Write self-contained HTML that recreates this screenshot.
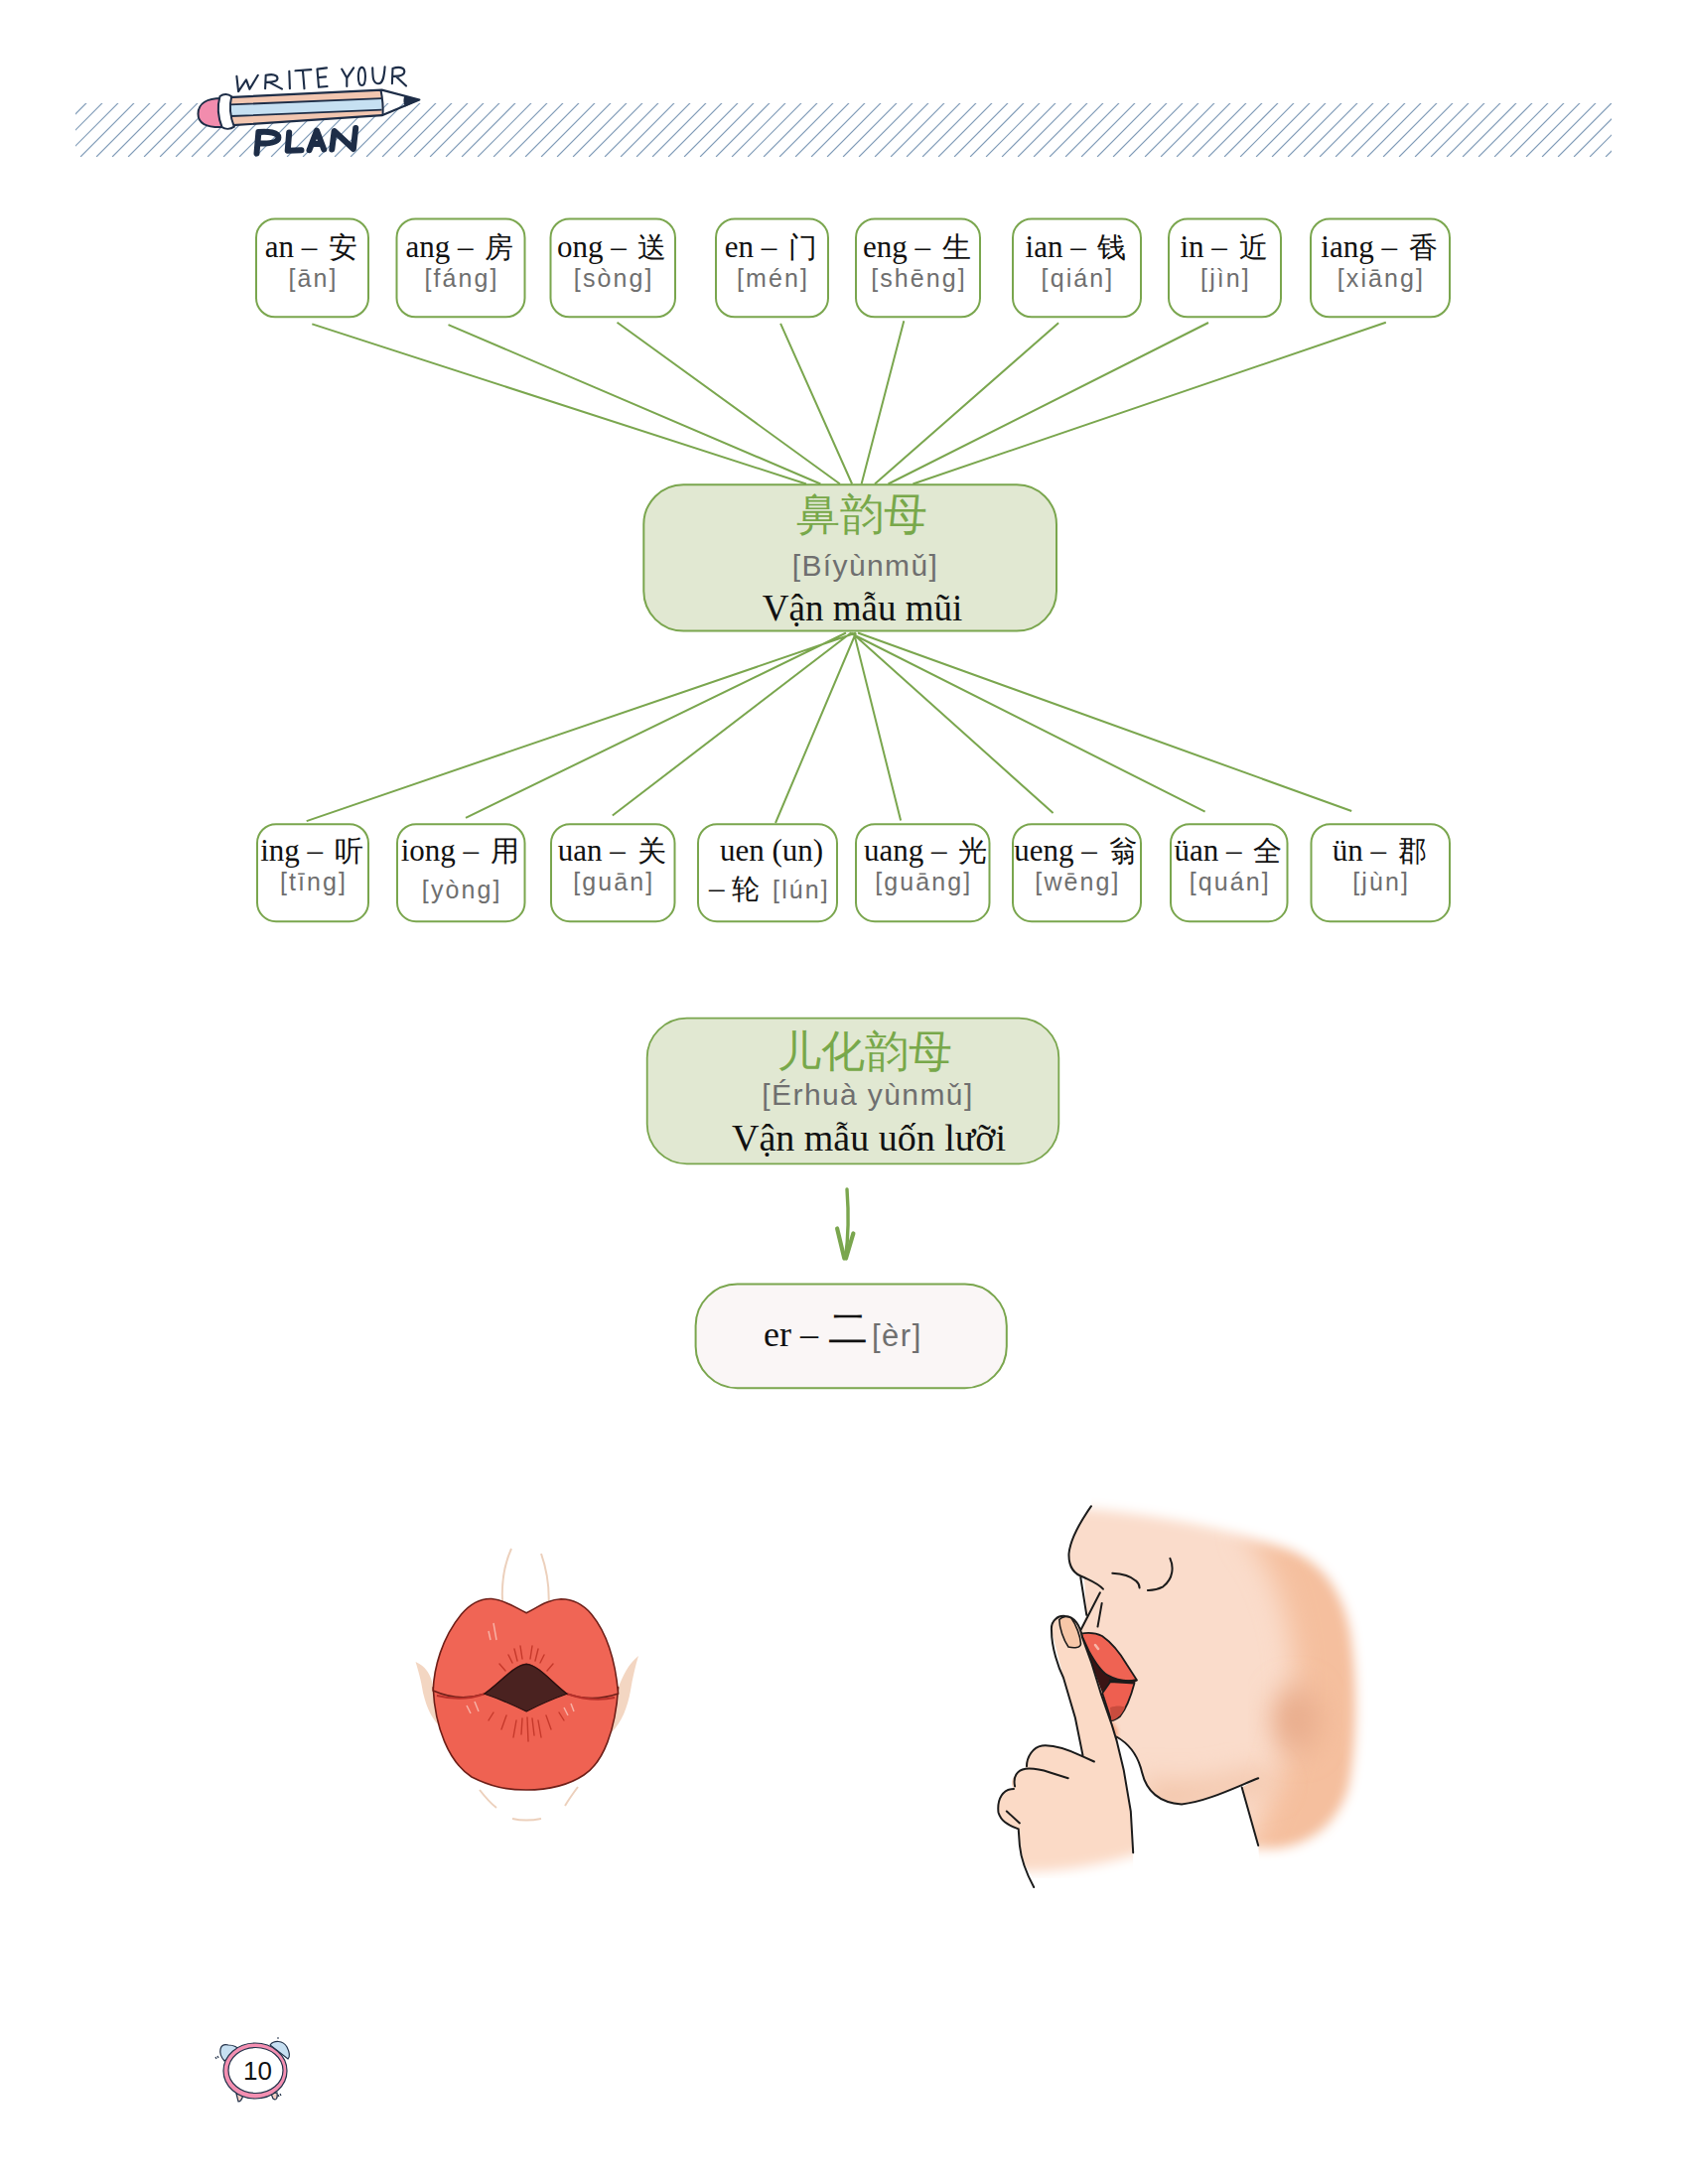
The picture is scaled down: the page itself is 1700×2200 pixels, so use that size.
<!DOCTYPE html><html><head><meta charset="utf-8"><style>html,body{margin:0;padding:0;background:#fff;}body{width:1700px;height:2200px;position:relative;overflow:hidden;}svg{position:absolute;left:0;top:0;}</style></head><body>
<svg width="1700" height="2200" viewBox="0 0 1700 2200">
<defs><clipPath id="hc"><rect x="76" y="104" width="1547" height="54"/></clipPath><filter id="blur4" x="-20%" y="-20%" width="140%" height="140%"><feGaussianBlur stdDeviation="6"/></filter><filter id="blur8" x="-50%" y="-50%" width="200%" height="200%"><feGaussianBlur stdDeviation="14"/></filter><filter id="blur2" x="-20%" y="-20%" width="140%" height="140%"><feGaussianBlur stdDeviation="2"/></filter></defs>
<path clip-path="url(#hc)" d="M-14.9 158L40.8 102 M1.1 158L56.8 102 M17.1 158L72.8 102 M33.1 158L88.8 102 M49.1 158L104.8 102 M65.1 158L120.8 102 M81.1 158L136.8 102 M97.1 158L152.8 102 M113.1 158L168.8 102 M129.1 158L184.8 102 M145.1 158L200.8 102 M161.1 158L216.8 102 M177.1 158L232.8 102 M193.1 158L248.8 102 M209.1 158L264.8 102 M225.1 158L280.8 102 M241.1 158L296.8 102 M257.1 158L312.8 102 M273.1 158L328.8 102 M289.1 158L344.8 102 M305.1 158L360.8 102 M321.1 158L376.8 102 M337.1 158L392.8 102 M353.1 158L408.8 102 M369.1 158L424.8 102 M385.1 158L440.8 102 M401.1 158L456.8 102 M417.1 158L472.8 102 M433.1 158L488.8 102 M449.1 158L504.8 102 M465.1 158L520.8 102 M481.1 158L536.8 102 M497.1 158L552.8 102 M513.1 158L568.8 102 M529.1 158L584.8 102 M545.1 158L600.8 102 M561.1 158L616.8 102 M577.1 158L632.8 102 M593.1 158L648.8 102 M609.1 158L664.8 102 M625.1 158L680.8 102 M641.1 158L696.8 102 M657.1 158L712.8 102 M673.1 158L728.8 102 M689.1 158L744.8 102 M705.1 158L760.8 102 M721.1 158L776.8 102 M737.1 158L792.8 102 M753.1 158L808.8 102 M769.1 158L824.8 102 M785.1 158L840.8 102 M801.1 158L856.8 102 M817.1 158L872.8 102 M833.1 158L888.8 102 M849.1 158L904.8 102 M865.1 158L920.8 102 M881.1 158L936.8 102 M897.1 158L952.8 102 M913.1 158L968.8 102 M929.1 158L984.8 102 M945.1 158L1000.8 102 M961.1 158L1016.8 102 M977.1 158L1032.8 102 M993.1 158L1048.8 102 M1009.1 158L1064.8 102 M1025.1 158L1080.8 102 M1041.1 158L1096.8 102 M1057.1 158L1112.8 102 M1073.1 158L1128.8 102 M1089.1 158L1144.8 102 M1105.1 158L1160.8 102 M1121.1 158L1176.8 102 M1137.1 158L1192.8 102 M1153.1 158L1208.8 102 M1169.1 158L1224.8 102 M1185.1 158L1240.8 102 M1201.1 158L1256.8 102 M1217.1 158L1272.8 102 M1233.1 158L1288.8 102 M1249.1 158L1304.8 102 M1265.1 158L1320.8 102 M1281.1 158L1336.8 102 M1297.1 158L1352.8 102 M1313.1 158L1368.8 102 M1329.1 158L1384.8 102 M1345.1 158L1400.8 102 M1361.1 158L1416.8 102 M1377.1 158L1432.8 102 M1393.1 158L1448.8 102 M1409.1 158L1464.8 102 M1425.1 158L1480.8 102 M1441.1 158L1496.8 102 M1457.1 158L1512.8 102 M1473.1 158L1528.8 102 M1489.1 158L1544.8 102 M1505.1 158L1560.8 102 M1521.1 158L1576.8 102 M1537.1 158L1592.8 102 M1553.1 158L1608.8 102 M1569.1 158L1624.8 102 M1585.1 158L1640.8 102 M1601.1 158L1656.8 102 M1617.1 158L1672.8 102 M1633.1 158L1688.8 102" stroke="#819cb8" stroke-width="1.15" fill="none"/>
<path d="M314.3 326.4L812.0 487.5 M451.5 327.1L826.4 487.5 M621.5 324.7L845.9 487.5 M786.1 325.8L858.1 487.5 M910.3 323.3L867.6 487.5 M1066.1 325.2L881.0 487.5 M1217.0 325.0L894.5 487.5 M1395.8 324.7L919.4 487.5" stroke="#7aa64e" stroke-width="2" fill="none"/>
<path d="M862.0 637.5L308.7 827.1 M852.0 637.5L469.0 823.9 M857.0 637.5L616.8 821.5 M862.0 637.5L781.0 829.0 M860.0 637.5L907.1 826.6 M858.0 637.5L1060.6 819.0 M856.0 637.5L1213.6 817.6 M864.0 637.5L1361.2 817.0" stroke="#7aa64e" stroke-width="2" fill="none"/>
<rect x="258.0" y="220.5" width="113.0" height="98.8" rx="19" ry="19" fill="#fff" stroke="#7aa64e" stroke-width="2.0"/>
<text x="313.5" y="258.5" text-anchor="middle" font-family="Liberation Serif" font-size="31" fill="#111">an – <tspan dx="4" font-size="28.5">安</tspan></text>
<text x="315.5" y="289" text-anchor="middle" font-family="Liberation Sans" font-size="25" letter-spacing="2.1" fill="#6f6f6f">[ān]</text>
<rect x="399.5" y="220.5" width="129.0" height="98.8" rx="19" ry="19" fill="#fff" stroke="#7aa64e" stroke-width="2.0"/>
<text x="463.0" y="258.5" text-anchor="middle" font-family="Liberation Serif" font-size="31" fill="#111">ang – <tspan dx="4" font-size="28.5">房</tspan></text>
<text x="465.0" y="289" text-anchor="middle" font-family="Liberation Sans" font-size="25" letter-spacing="2.1" fill="#6f6f6f">[fáng]</text>
<rect x="554.5" y="220.5" width="125.5" height="98.8" rx="19" ry="19" fill="#fff" stroke="#7aa64e" stroke-width="2.0"/>
<text x="616.2" y="258.5" text-anchor="middle" font-family="Liberation Serif" font-size="31" fill="#111">ong – <tspan dx="4" font-size="28.5">送</tspan></text>
<text x="618.2" y="289" text-anchor="middle" font-family="Liberation Sans" font-size="25" letter-spacing="2.1" fill="#6f6f6f">[sòng]</text>
<rect x="721.0" y="220.5" width="113.0" height="98.8" rx="19" ry="19" fill="#fff" stroke="#7aa64e" stroke-width="2.0"/>
<text x="776.5" y="258.5" text-anchor="middle" font-family="Liberation Serif" font-size="31" fill="#111">en – <tspan dx="4" font-size="28.5">门</tspan></text>
<text x="778.5" y="289" text-anchor="middle" font-family="Liberation Sans" font-size="25" letter-spacing="2.1" fill="#6f6f6f">[mén]</text>
<rect x="862.0" y="220.5" width="125.0" height="98.8" rx="19" ry="19" fill="#fff" stroke="#7aa64e" stroke-width="2.0"/>
<text x="923.5" y="258.5" text-anchor="middle" font-family="Liberation Serif" font-size="31" fill="#111">eng – <tspan dx="4" font-size="28.5">生</tspan></text>
<text x="925.5" y="289" text-anchor="middle" font-family="Liberation Sans" font-size="25" letter-spacing="2.1" fill="#6f6f6f">[shēng]</text>
<rect x="1020.0" y="220.5" width="129.0" height="98.8" rx="19" ry="19" fill="#fff" stroke="#7aa64e" stroke-width="2.0"/>
<text x="1083.5" y="258.5" text-anchor="middle" font-family="Liberation Serif" font-size="31" fill="#111">ian – <tspan dx="4" font-size="28.5">钱</tspan></text>
<text x="1085.5" y="289" text-anchor="middle" font-family="Liberation Sans" font-size="25" letter-spacing="2.1" fill="#6f6f6f">[qián]</text>
<rect x="1177.0" y="220.5" width="113.0" height="98.8" rx="19" ry="19" fill="#fff" stroke="#7aa64e" stroke-width="2.0"/>
<text x="1232.5" y="258.5" text-anchor="middle" font-family="Liberation Serif" font-size="31" fill="#111">in – <tspan dx="4" font-size="28.5">近</tspan></text>
<text x="1234.5" y="289" text-anchor="middle" font-family="Liberation Sans" font-size="25" letter-spacing="2.1" fill="#6f6f6f">[jìn]</text>
<rect x="1320.0" y="220.5" width="140.0" height="98.8" rx="19" ry="19" fill="#fff" stroke="#7aa64e" stroke-width="2.0"/>
<text x="1389.0" y="258.5" text-anchor="middle" font-family="Liberation Serif" font-size="31" fill="#111">iang – <tspan dx="4" font-size="28.5">香</tspan></text>
<text x="1391.0" y="289" text-anchor="middle" font-family="Liberation Sans" font-size="25" letter-spacing="2.1" fill="#6f6f6f">[xiāng]</text>
<rect x="259.0" y="830.2" width="112.0" height="98.0" rx="19" ry="19" fill="#fff" stroke="#7aa64e" stroke-width="2.0"/>
<text x="314.0" y="867" text-anchor="middle" font-family="Liberation Serif" font-size="31" fill="#111">ing – <tspan dx="4" font-size="28.5">听</tspan></text>
<text x="316.0" y="897" text-anchor="middle" font-family="Liberation Sans" font-size="25" letter-spacing="2.1" fill="#6f6f6f">[tīng]</text>
<rect x="400.0" y="830.2" width="128.5" height="98.0" rx="19" ry="19" fill="#fff" stroke="#7aa64e" stroke-width="2.0"/>
<text x="463.2" y="867" text-anchor="middle" font-family="Liberation Serif" font-size="31" fill="#111">iong – <tspan dx="4" font-size="28.5">用</tspan></text>
<text x="465.2" y="905" text-anchor="middle" font-family="Liberation Sans" font-size="25" letter-spacing="2.1" fill="#6f6f6f">[yòng]</text>
<rect x="555.0" y="830.2" width="124.5" height="98.0" rx="19" ry="19" fill="#fff" stroke="#7aa64e" stroke-width="2.0"/>
<text x="616.2" y="867" text-anchor="middle" font-family="Liberation Serif" font-size="31" fill="#111">uan – <tspan dx="4" font-size="28.5">关</tspan></text>
<text x="618.2" y="897" text-anchor="middle" font-family="Liberation Sans" font-size="25" letter-spacing="2.1" fill="#6f6f6f">[guān]</text>
<rect x="703.0" y="830.2" width="140.0" height="98.0" rx="19" ry="19" fill="#fff" stroke="#7aa64e" stroke-width="2.0"/>
<text x="777.0" y="867" text-anchor="middle" font-family="Liberation Serif" font-size="31" fill="#111">uen (un)</text>
<text x="775.0" y="905" text-anchor="middle" font-family="Liberation Serif" font-size="31" fill="#111">– <tspan font-size="28">轮</tspan> <tspan dx="5" font-family="Liberation Sans" font-size="25" fill="#6f6f6f" letter-spacing="2.1">[lún]</tspan></text>
<rect x="862.0" y="830.2" width="134.5" height="98.0" rx="19" ry="19" fill="#fff" stroke="#7aa64e" stroke-width="2.0"/>
<text x="932.2" y="867" text-anchor="middle" font-family="Liberation Serif" font-size="31" fill="#111">uang – <tspan dx="4" font-size="28.5">光</tspan></text>
<text x="930.2" y="897" text-anchor="middle" font-family="Liberation Sans" font-size="25" letter-spacing="2.1" fill="#6f6f6f">[guāng]</text>
<rect x="1020.0" y="830.2" width="129.0" height="98.0" rx="19" ry="19" fill="#fff" stroke="#7aa64e" stroke-width="2.0"/>
<text x="1083.5" y="867" text-anchor="middle" font-family="Liberation Serif" font-size="31" fill="#111">ueng – <tspan dx="4" font-size="28.5">翁</tspan></text>
<text x="1085.5" y="897" text-anchor="middle" font-family="Liberation Sans" font-size="25" letter-spacing="2.1" fill="#6f6f6f">[wēng]</text>
<rect x="1179.0" y="830.2" width="117.5" height="98.0" rx="19" ry="19" fill="#fff" stroke="#7aa64e" stroke-width="2.0"/>
<text x="1236.8" y="867" text-anchor="middle" font-family="Liberation Serif" font-size="31" fill="#111">üan – <tspan dx="4" font-size="28.5">全</tspan></text>
<text x="1238.8" y="897" text-anchor="middle" font-family="Liberation Sans" font-size="25" letter-spacing="2.1" fill="#6f6f6f">[quán]</text>
<rect x="1320.5" y="830.2" width="139.5" height="98.0" rx="19" ry="19" fill="#fff" stroke="#7aa64e" stroke-width="2.0"/>
<text x="1389.2" y="867" text-anchor="middle" font-family="Liberation Serif" font-size="31" fill="#111">ün – <tspan dx="4" font-size="28.5">郡</tspan></text>
<text x="1391.2" y="897" text-anchor="middle" font-family="Liberation Sans" font-size="25" letter-spacing="2.1" fill="#6f6f6f">[jùn]</text>
<rect x="648.3" y="488.3" width="415.7" height="147.3" rx="40" ry="40" fill="#e1e8d2" stroke="#7aa64e" stroke-width="2.0"/>
<text x="867.5" y="533" text-anchor="middle" font-family="Liberation Serif" font-size="44" fill="#78a84a">鼻韵母</text>
<text x="871.5" y="580" text-anchor="middle" font-family="Liberation Sans" font-size="30" letter-spacing="1.4" fill="#6f6f6f">[Bíyùnmǔ]</text>
<text x="868.5" y="624.6" text-anchor="middle" font-family="Liberation Serif" font-size="37" fill="#111">Vận mẫu mũi</text>
<rect x="651.7" y="1025.6" width="414.6" height="146.7" rx="40" ry="40" fill="#e1e8d2" stroke="#7aa64e" stroke-width="1.8"/>
<text x="871" y="1074" text-anchor="middle" font-family="Liberation Serif" font-size="44" fill="#78a84a">儿化韵母</text>
<text x="874" y="1113" text-anchor="middle" font-family="Liberation Sans" font-size="30" letter-spacing="1.4" fill="#6f6f6f">[Érhuà yùnmǔ]</text>
<text x="875" y="1159" text-anchor="middle" font-family="Liberation Serif" font-size="38" fill="#111">Vận mẫu uốn lưỡi</text>
<path d="M853 1198 C854.8 1222 854.5 1246 851.5 1267" stroke="#7aa64e" stroke-width="3.4" fill="none" stroke-linecap="round"/>
<path d="M843.1 1237.5 L850.3 1267.5 M859.4 1242.4 L852 1267.5" stroke="#7aa64e" stroke-width="4.2" fill="none" stroke-linecap="round" stroke-linejoin="round"/>
<path d="M848 1262 L855.5 1258 L853 1269 L849.5 1269 Z" fill="#7aa64e"/>
<rect x="700.6" y="1293.6" width="313.2" height="104.6" rx="42" ry="42" fill="#faf6f6" stroke="#7aa64e" stroke-width="2.0"/>
<text x="769" y="1356" font-family="Liberation Serif" font-size="36" fill="#111">er –<tspan dx="10" dy="-4" font-size="40">二</tspan><tspan dx="4" dy="4" font-family="Liberation Sans" font-size="31" letter-spacing="1.5" fill="#6f6f6f">[èr]</tspan></text>
<path d="M223 99 C209 99 199.5 104 199.5 114.7 C199.5 124 207 128.5 224 128 Z" fill="#f28cad" stroke="#1d2d47" stroke-width="2"/>
<path d="M232 98.1 L384.6 90.6 L384.6 116.2 L234 126.2 Z" fill="#f2c6b0"/>
<path d="M232 105.4 L384.6 99.2 L384.6 110.6 L233 117 Z" fill="#c6e0f2"/>
<path d="M232 105.4 L384.6 99.2 M233 117 L384.6 110.6" stroke="#1d2d47" stroke-width="1.8" fill="none"/>
<path d="M230 98.1 L384.6 90.6 L422.3 100.5 L384.6 116.2 L234 126.2" stroke="#1d2d47" stroke-width="2.2" fill="none" stroke-linejoin="round"/>
<path d="M383.5 90.8 C385 98 386 108 385.5 116" stroke="#1d2d47" stroke-width="2" fill="none"/>
<path d="M407.4 96.8 L422.3 100.5 L408 107.6 C406 104 406 100 407.4 96.8 Z" fill="#1d2d47"/>
<path d="M221.5 97 C225 94.3 230 94.3 233.2 97.3 C231 106 232 118 235.8 127.6 C232 130.3 227 130.3 223.6 128.2 C219.5 118 219 106 221.5 97 Z" fill="#fff" stroke="#1d2d47" stroke-width="2"/>
<path d="M238.4 76.9 L240.1 92.1 L248 80.3 L251.4 89.8 L259.8 75.8 M267.7 75.8 L267.1 89.3 M267.7 75.8 C274 74.5 279.5 75 279.5 79 C279.5 82 274 83 268.3 82.8 M271.6 83.1 L284 89.6 M291.3 71.8 L291.9 89.3 M297.5 71.3 L313.3 70.1 M304.9 70.7 L306.5 89.3 M329 68.4 L319.5 69.6 L321 87.8 L329.6 87 M321.2 78 L328 77.4 M344.2 69.6 L349.3 78.6 L356.1 68.4 M349.3 78.6 L349.3 87 M364.5 67.9 C359.5 67.9 359.8 86 364.5 86 C369 86 369.2 67.9 364.5 67.9 Z M375.2 68.4 C375.5 76 375 84 380.8 84.2 C386 84.4 387 76 387.6 67.3 M395.5 69 L394.9 84.2 M395.5 69 C401 67 407.5 67.5 407.3 72.4 C407 76 401 77 396 76.9 M398.8 76.9 L409 86.6" stroke="#1d2d47" stroke-width="2.1" fill="none" stroke-linecap="round" stroke-linejoin="round"/>
<path d="M260.4 133 L258.5 154.6 M260.4 133 C270 132 280.4 133.5 280.4 138.5 C280.4 143.5 272 144.6 262 144.6 M291.2 133.5 L289.7 151.8 L303.5 151.3 M311.5 151.2 L319 131.5 L326.2 150.5 M315 145 L323 145 M334.3 150.5 L336.6 132 L355.9 150 L358.2 129" stroke="#1d2d47" stroke-width="6" fill="none" stroke-linecap="round" stroke-linejoin="round"/>
<path d="M515 1560 C506 1580 504 1600 507 1625 M545 1565 C552 1585 554 1605 552 1625" stroke="#ecd0bc" stroke-width="2" fill="none"/>
<path d="M418.5 1674 C428 1678 434 1685 437 1702 L444 1740 C436 1733 430 1722 426 1705 C424 1692 421 1682 418.5 1674 Z" fill="#f3d6c2"/>
<path d="M643 1668 C633 1676 627 1688 622 1702 L616 1745 C626 1735 632 1720 635 1703 C637 1690 640 1678 643 1668 Z" fill="#f3d6c2"/>
<path d="M483 1803 C490 1812 496 1818 500 1821 M582 1800 C576 1808 572 1814 569 1819 M516 1832 C525 1834 535 1834 545 1832" stroke="#ecd0bc" stroke-width="2" fill="none"/>
<path d="M436.2 1700 C438 1740 452 1775 475 1790 C495 1800 510 1803 530 1803 C550 1803 570 1800 588 1788 C608 1775 620 1742 622.6 1700 C590 1680 560 1675 530 1675 C500 1675 470 1680 436.2 1700 Z" fill="#ef6252" stroke="#6e1f18" stroke-width="1.6"/>
<path d="M436.2 1703 C437 1680 445 1650 464.7 1626 C475 1614 485 1610 495 1610.5 C510 1612 520 1620 530.2 1624.7 C540 1620 552 1611 565 1610.8 C578 1611 588 1617 595.6 1626 C612 1646 620 1675 622.6 1706 C605 1712 588 1712 571 1706.3 C557 1696 542 1677 530.2 1676.3 C518 1677 503 1696 487.8 1706.3 C470 1712 452 1710 436.2 1703 Z" fill="#f06555" stroke="#6e1f18" stroke-width="1.6"/>
<path d="M440 1708 C460 1713 475 1711 487.8 1706.3 M571 1706.3 C588 1712 605 1713 619 1710" stroke="#b8302a" stroke-width="2" fill="none"/>
<path d="M487.8 1706.3 C503 1696 518 1677 530.2 1676.3 C542 1677 557 1696 571 1706.3 C555 1712 542 1718 530.2 1724 C518 1718 505 1712 487.8 1706.3 Z" fill="#4a2220" stroke="#2a1010" stroke-width="1.2"/>
<path d="M518 1661 L521 1673 M524 1658 L526 1671 M536 1658 L534 1671 M542 1661 L539 1673 M512 1667 L516 1675 M548 1667 L544 1675 M503 1676 L509 1683 M557 1676 L551 1683 M520 1733 L517 1750 M526 1731 L525 1747 M531 1730 L532 1754 M536 1731 L538 1748 M542 1733 L545 1750 M510 1728 L505 1742 M550 1728 L555 1742 M497 1725 L492 1733 M563 1725 L568 1733" stroke="#c5392b" stroke-width="1.4" fill="none" stroke-linecap="round"/>
<path d="M497 1635 L500 1652 M492 1643 L494 1652 M470 1718 L474 1726 M478 1714 L482 1724 M568 1720 L572 1728 M575 1716 L578 1724" stroke="#f7b0a4" stroke-width="1.5" fill="none"/>
<mask id="fmask" maskUnits="userSpaceOnUse" x="1000" y="1450" width="450" height="480"><path d="M1060 1517 C1150 1522 1230 1538 1296 1560 C1332 1574 1352 1602 1360 1646 C1368 1700 1366 1760 1358 1800 C1348 1835 1322 1858 1285 1862 L1200 1862 L1060 1860 Z" fill="#fff" filter="url(#blur4)"/></mask>
<g mask="url(#fmask)">
<rect x="1000" y="1450" width="450" height="480" fill="#fadccb"/>
<path d="M1250 1540 L1420 1540 L1420 1900 L1240 1900 C1260 1850 1290 1800 1300 1740 C1310 1680 1300 1600 1250 1540 Z" fill="#f5bf9e" filter="url(#blur8)"/>
<ellipse cx="1305" cy="1732" rx="24" ry="34" fill="#e9ad8d" filter="url(#blur8)"/>
<path d="M1150 1790 C1180 1800 1230 1795 1270 1780 L1290 1800 L1160 1830 Z" fill="#f3c4a8" filter="url(#blur8)"/>
</g>
<path d="M960 1470 L1102 1470 L1099 1517.2 C1090 1530 1078 1550 1076.5 1565 C1076 1578 1082 1586 1091.9 1589 L1094.3 1626.8 L1088 1642 L1080 1700 L1112 1745 L1124.5 1749.5 C1136 1756 1146 1768 1150 1785 C1155 1806 1168 1816 1190 1817.4 C1215 1815 1245 1800 1267.2 1791.2 L1250.7 1800.4 L1267.2 1859 L1272 1930 L960 1930 Z" fill="#fff"/>
<path d="M1112 1728 C1122 1736 1128 1742 1124 1752 L1108 1748 Z" fill="#f2a07a" filter="url(#blur2)"/>
<path d="M1088 1645 L1110.2 1705.5 L1119.3 1733.2 C1121 1733 1124 1732 1128 1729 C1135 1720 1140 1705 1142.5 1695.5 L1145 1692.4 Z" fill="#3a1414"/>
<path d="M1118.3 1694 L1142.5 1695.5 C1140 1705 1135 1720 1128 1729 C1124 1732 1121 1733 1119.3 1733.2 L1110.2 1705.5 Z" fill="#ee5f50" stroke="#1b1b1b" stroke-width="1.8" stroke-linejoin="round"/>
<path d="M1118 1720 C1124 1718 1130 1718 1133 1720 C1130 1727 1125 1732 1119.3 1733 Z" fill="#c94c3e"/>
<path d="M1088.6 1645.6 C1095 1644.5 1103 1644.5 1110 1648 C1120 1655 1128 1665 1135 1677 L1145 1692.4 C1135 1694 1125 1693 1115.3 1687.4 C1108 1683 1102 1673 1096.6 1663.2 Z" fill="#ef6353" stroke="#1b1b1b" stroke-width="1.8" stroke-linejoin="round"/>
<path d="M1145 1692.4 C1135 1694.5 1125 1694 1117 1692.5" stroke="#1b1b1b" stroke-width="2.4" fill="none"/>
<path d="M1103 1657 L1106 1661" stroke="#f8b6a8" stroke-width="2.5" stroke-linecap="round"/>
<path d="M1059 1642.4 C1058 1632 1066 1627 1073 1628 C1082 1628 1088 1638 1090 1649.5 L1099.5 1675.7 L1119.8 1737.6 L1131.7 1782.9 L1138.8 1824.5 L1141.2 1866.2 L1141 1892 L1040 1892 L1031.7 1878.1 L1026.9 1859 L1025.7 1842.4 C1018 1840 1010 1836 1006 1826 C1004 1815 1010 1803 1021 1801.9 C1016 1796 1020 1786 1032.9 1781.7 C1032 1775 1036 1764 1049.5 1758.5 C1062 1758 1075 1762 1090.6 1768.6 L1082.9 1730.5 L1071 1690 Z" fill="#fbdac6"/>
<path d="M1066.8 1631.5 C1070 1628 1076 1627.5 1079 1630 C1084 1637 1088 1648 1088.5 1656 C1088 1660 1082 1660.5 1076 1659 C1071 1652 1067 1640 1066.8 1631.5 Z" fill="#f7c7a8" stroke="#1b1b1b" stroke-width="1.6"/>
<path d="M1000 1882 C1040 1890 1100 1882 1150 1866 L1160 1930 L1000 1930 Z" fill="#fff" filter="url(#blur4)"/>
<path d="M1099 1517.2 C1090 1530 1078 1550 1076.5 1565 C1076 1578 1082 1586 1091.9 1589 C1098 1592 1106 1595 1110.9 1600.7 M1088.3 1589 L1094.3 1626.8 M1107.9 1604.3 L1088.3 1642.2 M1109.7 1614.9 L1105.5 1638.6 M1120.3 1584.7 C1128 1585 1138 1587 1144 1592.4 C1146 1594 1147.5 1597 1147.6 1599.5 M1178.4 1569.9 C1182 1578 1182 1590 1171.3 1598.3 C1166 1601 1160 1602 1155.9 1601.9 M1059 1642.4 C1058 1632 1066 1627 1073 1628 C1082 1628 1088 1638 1090 1649.5 M1059 1642.4 C1059 1660 1066 1680 1071 1690 L1082.9 1730.5 L1090.6 1768.6 M1090 1649.5 L1099.5 1675.7 L1109 1706.7 L1119.8 1737.6 L1124.5 1753.1 L1131.7 1782.9 L1138.8 1824.5 L1141.2 1866.2 M1034 1779.3 C1034 1770 1040 1760 1049.5 1758.5 C1060 1757.5 1075 1762 1090 1769.2 L1101.9 1774.5 M1022.1 1799.5 C1020 1790 1024 1783 1032.9 1781.7 C1042 1781 1050 1783 1056.7 1785.2 L1075.7 1791.2 M1021 1801.9 C1010 1802 1004 1812 1005.5 1825.7 C1008 1834 1014 1838 1025.7 1842.4 L1026.9 1859 C1028 1870 1032 1884 1041.2 1901 M1013.8 1824.5 L1026.9 1836.4 M1124.5 1749.5 C1136 1756 1146 1768 1150 1785 C1155 1806 1168 1816 1190 1817.4 C1215 1815 1245 1800 1267.2 1791.2 M1250.7 1800.4 L1267.2 1859" stroke="#1b1b1b" stroke-width="2" fill="none" stroke-linecap="round"/>
<g stroke="#22324a" stroke-width="1.2"><path d="M226 2076 C219 2068 221 2058 230 2060 C236 2060 240 2063 242 2066 Z" fill="#c7e0f2"/><path d="M272 2060 C276 2055 285 2055 289 2062 C292 2068 292 2072 290 2074 Z" fill="#c7e0f2"/><path d="M238 2109 L240 2117 C243 2117 244 2114 245 2110 Z" fill="#f3cfc4"/><path d="M273 2109 L275 2114 C278 2116 280 2114 279 2108 Z" fill="#f3cfc4"/><ellipse cx="257" cy="2086" rx="32" ry="28" fill="#f48fb1"/><ellipse cx="257.5" cy="2085.5" rx="27.5" ry="23" fill="#fff"/><path d="M217 2072 L218 2074 M219 2071 L220 2073 M279 2053 L281 2053 M280 2110 L281 2112 M282 2109 L283 2111" fill="none"/></g>
<text x="259.5" y="2095.4" text-anchor="middle" font-family="Liberation Sans" font-size="26" fill="#111">10</text>
</svg></body></html>
